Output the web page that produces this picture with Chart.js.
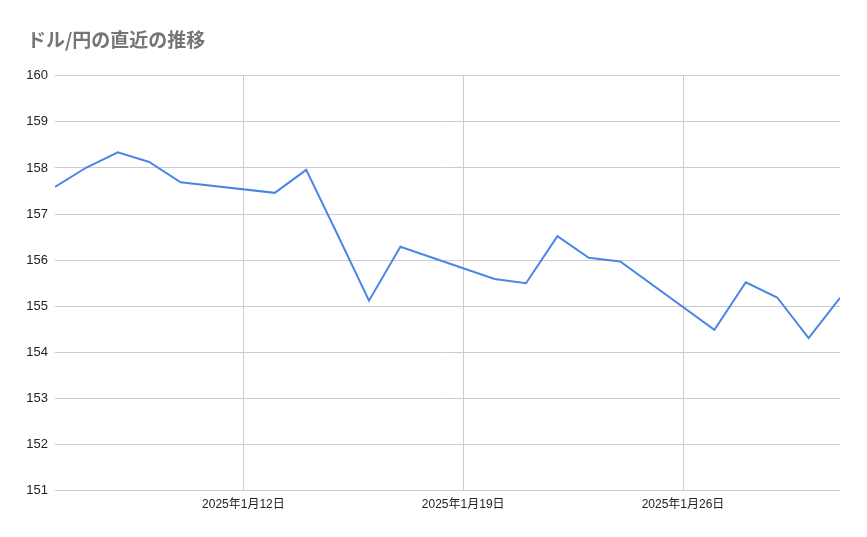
<!DOCTYPE html>
<html lang="ja">
<head>
<meta charset="utf-8">
<title>ドル/円の直近の推移</title>
<script src="https://cdn.jsdelivr.net/npm/chart.js@4"></script>
<style>
  html, body { margin: 0; padding: 0; background: #fff; }
  #wrap { width: 867px; height: 537px; }
</style>
</head>
<body>
<div id="wrap"><canvas id="fxChart"></canvas></div>
<script>
// 2025年1月の営業日 (日)
const days = [6, 7, 8, 9, 10, 13, 14, 15, 16, 17, 20, 21, 22, 23, 24, 27, 28, 29, 30, 31];
// ドル/円レート
const rates = [157.59, 158.01, 158.34, 158.13, 157.69, 157.46, 157.96, 156.55, 155.12, 156.29,
               155.59, 155.50, 156.52, 156.05, 155.97, 154.49, 155.52, 155.19, 154.31, 155.18];
// x軸の目盛り (日)
const xTicks = [12, 19, 26];
const yTicks = [151, 152, 153, 154, 155, 156, 157, 158, 159, 160];

const latin = '"Liberation Sans", Arial, "Noto Sans CJK JP", sans-serif';

new Chart(document.getElementById('fxChart'), {
    type: 'line',
    data: {
        datasets: [{
            data: days.map((d, i) => ({ x: d, y: rates[i] })),
            borderColor: '#4a86e8',
            borderWidth: 2,
            pointRadius: 0,
            tension: 0,
            fill: false
        }]
    },
    options: {
        responsive: true,
        maintainAspectRatio: false,
        animation: false,
        layout: { padding: { left: 27, right: 27, top: 0, bottom: 18 } },
        plugins: {
            legend: { display: false },
            tooltip: { enabled: false },
            title: {
                display: true,
                text: 'ドル/円の直近の推移',
                align: 'start',
                color: '#757575',
                font: { family: '"Noto Sans CJK JP", sans-serif', size: 19, weight: 'bold' },
                padding: { top: 28, bottom: 25 }
            }
        },
        scales: {
            x: {
                type: 'linear',
                min: days[0],
                max: days[days.length - 1],
                afterBuildTicks: (scale) => { scale.ticks = xTicks.map(v => ({ value: v })); },
                grid: { color: '#cccccc', drawTicks: false },
                border: { display: false },
                ticks: {
                    padding: 7,
                    color: '#222',
                    maxRotation: 0,
                    font: { family: latin, size: 12 },
                    callback: (v) => '2025年1月' + v + '日'
                }
            },
            y: {
                min: 151,
                max: 160,
                afterBuildTicks: (scale) => { scale.ticks = yTicks.map(v => ({ value: v })); },
                afterFit: (scale) => { scale.width = 28; },
                grid: { color: '#cccccc', drawTicks: false },
                border: { display: false },
                ticks: {
                    padding: 7,
                    color: '#222',
                    font: { family: latin, size: 13 }
                }
            }
        }
    }
});
</script>
</body>
</html>
